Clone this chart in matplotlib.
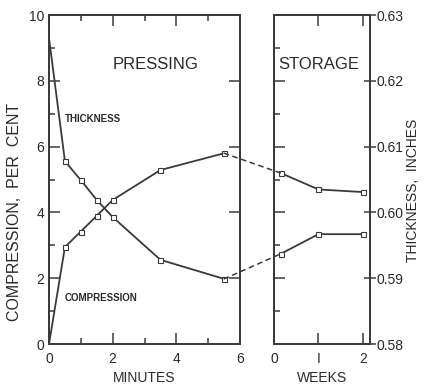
import matplotlib
matplotlib.use('Agg')
from matplotlib import pyplot as plt
from matplotlib.patches import ConnectionPatch
from matplotlib.ticker import MultipleLocator, FixedLocator

plt.rcParams['font.family'] = ['Liberation Sans', 'DejaVu Sans']

# pressing phase (minutes)
press_minutes = [0, 0.5, 1.0, 1.5, 2.0, 3.5, 5.5]
press_compression = [0, 2.95, 3.42, 3.9, 4.38, 5.29, 5.8]          # per cent
press_thickness = [0.6265, 0.6078, 0.6049, 0.6019, 0.5993, 0.5928, 0.5899]  # inches

# storage phase (weeks)
store_weeks = [0.15, 1.0, 2.0]
store_compression = [5.2, 4.7, 4.62]
store_thickness = [0.5937, 0.5967, 0.5967]

minute_ticks = [0, 2, 4, 6]
week_ticks = [0, 1, 2]
week_labels = ['0', 'I', '2']
thick_ticks = [0.58, 0.59, 0.60, 0.61, 0.62, 0.63]

ink = '#3a3a3a'
txt = '#2a2a2a'

fig = plt.figure(figsize=(4.24, 3.87), dpi=100)
ax1 = fig.add_axes([0.1156, 0.111, 0.4505, 0.850])
ax2 = fig.add_axes([0.646, 0.111, 0.226, 0.850])
ax1t = ax1.twinx()
ax2t = ax2.twinx()

line_kw = dict(color=ink, lw=1.3, marker='s', ms=3.6, mfc='white', mec=ink, mew=0.8)

ax1.plot(press_minutes, press_compression, markevery=list(range(1, 7)), **line_kw)
ax1t.plot(press_minutes, press_thickness, markevery=list(range(1, 7)), **line_kw)
ax2.plot(store_weeks, store_compression, **line_kw)
ax2t.plot(store_weeks, store_thickness, **line_kw)

ax1.set_xlim(0, 6)
ax1.set_ylim(0, 10)
ax1t.set_ylim(0.58, 0.63)
ax2.set_xlim(0, 2.15)
ax2.set_ylim(0, 10)
ax2t.set_ylim(0.58, 0.63)

# dashed links across the gap
for a_from, a_to, y_from, y_to in [(ax1, ax2, press_compression[-1], store_compression[0]),
                                   (ax1t, ax2t, press_thickness[-1], store_thickness[0])]:
    con = ConnectionPatch(xyA=(press_minutes[-1], y_from), coordsA=a_from.transData,
                          xyB=(store_weeks[0], y_to), coordsB=a_to.transData,
                          color=ink, lw=1.1, linestyle=(0, (3, 3)))
    fig.add_artist(con)

for ax in (ax1, ax2, ax1t, ax2t):
    for s in ax.spines.values():
        s.set_color(ink)
        s.set_linewidth(1.3)

# left panel ticks
ax1.xaxis.set_major_locator(FixedLocator(minute_ticks))
ax1.xaxis.set_minor_locator(MultipleLocator(1))
ax1.yaxis.set_major_locator(MultipleLocator(2))
ax1.yaxis.set_minor_locator(MultipleLocator(1))
ax1.tick_params(which='both', direction='in', top=True, right=False, colors=ink,
                labelcolor=txt, labelsize=10, width=1.1)
ax1.tick_params(which='major', length=8)
ax1.tick_params(which='minor', length=4)
ax1.tick_params(axis='x', pad=6)
ax1t.yaxis.set_major_locator(MultipleLocator(0.01))
ax1t.tick_params(direction='in', length=8, labelright=False, colors=ink, width=1.1)

# right panel ticks
ax2.xaxis.set_major_locator(FixedLocator(week_ticks))
ax2.set_xticklabels(week_labels)
ax2.yaxis.set_major_locator(MultipleLocator(2))
ax2.yaxis.set_minor_locator(MultipleLocator(1))
ax2.tick_params(which='both', direction='in', top=True, labelleft=False, colors=ink,
                labelcolor=txt, labelsize=10, width=1.1)
ax2.tick_params(which='major', length=8)
ax2.tick_params(which='minor', length=4)
ax2.tick_params(axis='x', pad=6)
ax2t.yaxis.set_major_locator(FixedLocator(thick_ticks))
ax2t.set_yticklabels(['%.2f' % t for t in thick_ticks])
ax2t.tick_params(direction='inout', length=8, colors=ink, labelcolor=txt,
                 labelsize=10, width=1.1, pad=1)

# labels
ax1.set_xlabel('MINUTES', fontsize=10, color=txt, labelpad=3)
ax2.set_xlabel('WEEKS', fontsize=10, color=txt, labelpad=3)
fig.text(15 / 424, 1 - 212 / 387, 'COMPRESSION,  PER  CENT', rotation=90,
         ha='center', va='center', fontsize=11.5, color=txt)
fig.text(413 / 424, 1 - 190 / 387, 'THICKNESS,  INCHES', rotation=90,
         ha='center', va='center', fontsize=10, color=txt)

ax1.text(3.35, 8.5, 'PRESSING', fontsize=12, color=txt, ha='center', va='center')
ax2.text(1.0, 8.5, 'STORAGE', fontsize=12, color=txt, ha='center', va='center')
ax1.text(0.5, 6.85, 'THICKNESS', fontsize=7, fontweight='bold', color=txt, va='center')
ax1.text(0.5, 1.4, 'COMPRESSION', fontsize=7, fontweight='bold', color=txt, va='center')

fig.savefig('out.png', dpi=100, facecolor='white')
